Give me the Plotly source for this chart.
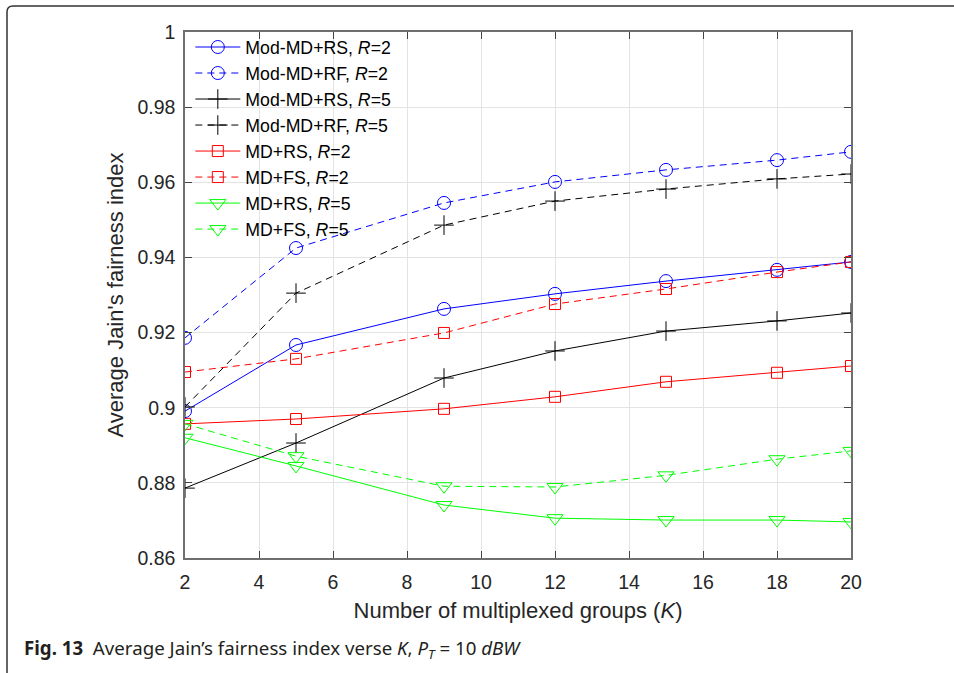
import plotly.graph_objects as go

K = [2, 5, 9, 12, 15, 18, 20]

mod_md_rs_r2 = [0.8991, 0.9167, 0.9263, 0.9303, 0.9337, 0.9367, 0.9388]
mod_md_rf_r2 = [0.9186, 0.9425, 0.9545, 0.9601, 0.9633, 0.9659, 0.9681]
mod_md_rs_r5 = [0.8786, 0.8906, 0.9079, 0.9151, 0.9204, 0.9231, 0.9252]
mod_md_rf_r5 = [0.9002, 0.9305, 0.9486, 0.9550, 0.9582, 0.9609, 0.9622]
md_rs_r2 = [0.8957, 0.8970, 0.8997, 0.9029, 0.9069, 0.9093, 0.9111]
md_fs_r2 = [0.9095, 0.9130, 0.9199, 0.9276, 0.9316, 0.9361, 0.9388]
md_rs_r5 = [0.8920, 0.8845, 0.8741, 0.8706, 0.8701, 0.8701, 0.8696]
md_fs_r5 = [0.8957, 0.8871, 0.8791, 0.8789, 0.8820, 0.8863, 0.8885]

names = [
    "Mod-MD+RS, <i>R</i>=2",
    "Mod-MD+RF, <i>R</i>=2",
    "Mod-MD+RS, <i>R</i>=5",
    "Mod-MD+RF, <i>R</i>=5",
    "MD+RS, <i>R</i>=2",
    "MD+FS, <i>R</i>=2",
    "MD+RS, <i>R</i>=5",
    "MD+FS, <i>R</i>=5",
]
series = [mod_md_rs_r2, mod_md_rf_r2, mod_md_rs_r5, mod_md_rf_r5,
          md_rs_r2, md_fs_r2, md_rs_r5, md_fs_r5]
colors = ["#0000FF", "#0000FF", "#000000", "#000000",
          "#FF0000", "#FF0000", "#00FF00", "#00FF00"]
dashes = ["solid", "7px,5px", "solid", "7px,5px",
          "solid", "7px,5px", "solid", "7px,5px"]
symbols = ["circle-open", "circle-open", "cross-thin-open", "cross-thin-open",
           "square-open", "square-open", "triangle-down-open", "triangle-down-open"]
sizes = [13, 13, 14, 14, 11, 11, 14, 14]

xticks = [2, 4, 6, 8, 10, 12, 14, 16, 18, 20]
yticks = [0.86, 0.88, 0.9, 0.92, 0.94, 0.96, 0.98, 1.0]
yticktext = ["0.86", "0.88", "0.9", "0.92", "0.94", "0.96", "0.98", "1"]

fig = go.Figure()
for n, s, c, d, sym, sz in zip(names, series, colors, dashes, symbols, sizes):
    fig.add_trace(go.Scatter(
        x=K, y=s, name=n, mode="lines+markers",
        line=dict(color=c, width=1, dash=d),
        marker=dict(symbol=sym, size=sz, color=c, line=dict(color=c, width=1)),
    ))

L, R, T, B = 185, 103, 32, 115
W, H = 954, 673
pw, ph = W - L - R, H - T - B

def px(xp):
    return (xp - L) / pw

def py(yp):
    return (H - B - yp) / ph

font = "Liberation Sans, Arial, sans-serif"
fig.update_layout(
    width=W, height=H,
    margin=dict(l=L, r=R, t=T, b=B),
    paper_bgcolor="white", plot_bgcolor="white",
    font=dict(family=font, size=19, color="#262626"),
    showlegend=True,
    legend=dict(x=0.008, y=py(29), xanchor="left", yanchor="top",
                bgcolor="rgba(0,0,0,0)", borderwidth=0,
                font=dict(size=17.7, color="#000000"),
                itemwidth=45, tracegroupgap=0),
    xaxis=dict(range=[2, 20], tickvals=xticks, ticks="inside", ticklen=7,
               tickcolor="#444", showline=True, linecolor="#6f6f6f", linewidth=1.5,
               mirror="ticks", showgrid=True, gridcolor="#e3e3e3", gridwidth=1,
               zeroline=False, tickfont=dict(size=19.5), ticklabelstandoff=6,
               title=dict(text="Number of multiplexed groups (<i>K</i>)",
                          font=dict(size=22), standoff=10)),
    yaxis=dict(range=[0.86, 1.0], tickvals=yticks, ticktext=yticktext,
               ticks="inside", ticklen=7, tickcolor="#444",
               showline=True, linecolor="#6f6f6f", linewidth=1.5, mirror="ticks",
               showgrid=True, gridcolor="#e3e3e3", gridwidth=1, zeroline=False,
               tickfont=dict(size=19.5), ticklabelstandoff=4,
               title=dict(text="Average Jain's fairness index",
                          font=dict(size=22), standoff=8)),
)

# outer frame with rounded top-left corner
xl, xr = px(7), px(960)
yt, yb = py(6), py(680)
rx, ry = 6 / pw, 6 / ph
fig.add_shape(type="path", xref="paper", yref="paper",
              path=f"M {xl},{yb} L {xl},{yt - ry} Q {xl},{yt} {xl + rx},{yt} L {xr},{yt}",
              line=dict(color="#333333", width=1.5))

fig.add_annotation(
    xref="paper", yref="paper", x=px(22), y=py(649), xanchor="left", yanchor="middle",
    showarrow=False,
    text="<b>Fig. 13</b>  Average Jain’s fairness index verse <i>K</i>, <i>P<sub>T</sub></i> = 10 <i>dBW</i>",
    font=dict(family="Noto Sans, Open Sans, sans-serif", size=18.7, color="#231f20"),
)

fig.write_html("out.html")
